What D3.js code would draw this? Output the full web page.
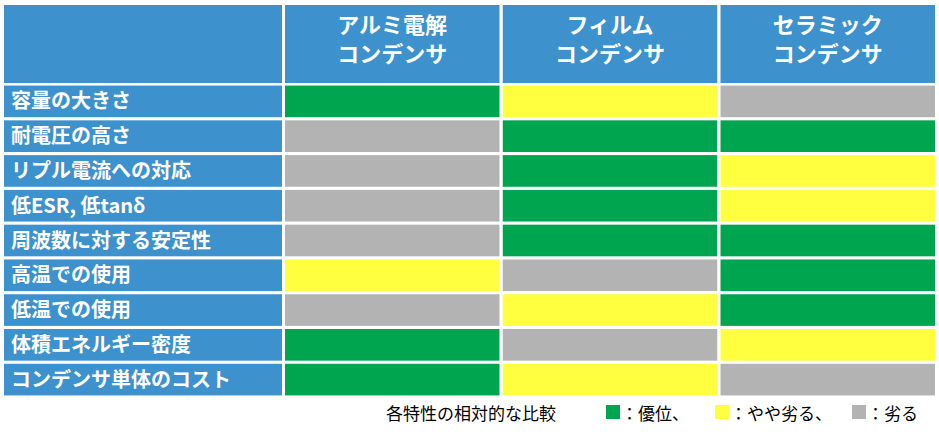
<!DOCTYPE html>
<html><head><meta charset="utf-8">
<script src="https://cdn.jsdelivr.net/npm/d3@7"></script>
<style>body{margin:0;background:#fff}</style>
</head><body>
<div id="chart"></div>
<script>
// Data
let columns = ["アルミ電解\nコンデンサ", "フィルム\nコンデンサ", "セラミック\nコンデンサ"];
let rows = ["容量の大きさ", "耐電圧の高さ", "リプル電流への対応", "低ESR, 低tanδ", "周波数に対する安定性",
            "高温での使用", "低温での使用", "体積エネルギー密度", "コンデンサ単体のコスト"];
// 2 = 優位, 1 = やや劣る, 0 = 劣る
let aluminum = [2, 0, 0, 0, 0, 1, 0, 2, 2];
let film     = [1, 2, 2, 2, 2, 0, 1, 0, 1];
let ceramic  = [0, 2, 1, 1, 2, 2, 2, 1, 0];
let legendLabels = ["：優位、", "：やや劣る、", "：劣る"];

let colors = ["#b3b3b3", "#ffff40", "#00a54f"];
let blue = "#3d91cd";

let svgWidth = 939, svgHeight = 437;
let svg = d3.select("#chart").append("svg").attr("width", svgWidth).attr("height", svgHeight);

// column positions: label column then three rating columns
let labelX0 = 4, labelX1 = 285, tableX1 = 935;
let x = d3.scaleBand().domain(d3.range(3)).range([labelX1, tableX1]).paddingInner(0.015);
let headerY0 = 5, headerY1 = 84, tableY1 = 397;
let y = d3.scaleBand().domain(d3.range(rows.length)).range([headerY1, tableY1]).paddingInner(0.09).paddingOuter(0.045);
let gap = 3;

// header cells
svg.append("rect").attr("x", labelX0).attr("y", headerY0)
  .attr("width", labelX1 - labelX0 - gap).attr("height", headerY1 - headerY0 - 1).attr("fill", blue);
let head = svg.append("g").selectAll("g").data(columns).enter().append("g");
head.append("rect")
  .attr("x", (d, i) => x(i)).attr("y", headerY0)
  .attr("width", x.bandwidth()).attr("height", headerY1 - headerY0 - 1).attr("fill", blue);
head.each(function(d, i) {
  let cx = x(i) + x.bandwidth() / 2;
  d.split("\n").forEach(function(line, k) {
    d3.select(this).append("text")
      .attr("x", cx).attr("y", 33 + k * 29)
      .attr("text-anchor", "middle")
      .attr("fill", "#fff").attr("font-family", "Noto Sans CJK JP").attr("font-weight", "bold").attr("font-size", 22)
      .text(line);
  }, this);
});

// row labels
let rowG = svg.append("g").selectAll("g").data(rows).enter().append("g");
rowG.append("rect")
  .attr("x", labelX0).attr("y", (d, i) => y(i))
  .attr("width", labelX1 - labelX0 - gap).attr("height", y.bandwidth()).attr("fill", blue);
rowG.append("text")
  .attr("x", labelX0 + 7).attr("y", (d, i) => y(i) + y.bandwidth() / 2 + 7)
  .attr("fill", "#fff").attr("font-family", "Noto Sans CJK JP").attr("font-weight", "bold").attr("font-size", 20)
  .text(d => d);

// rating cells
[aluminum, film, ceramic].forEach(function(series, c) {
  svg.append("g").selectAll("rect").data(series).enter().append("rect")
    .attr("x", x(c)).attr("y", (d, i) => y(i))
    .attr("width", x.bandwidth()).attr("height", y.bandwidth())
    .attr("fill", d => colors[d]);
});

// legend
let legend = svg.append("g").attr("font-family", "Noto Sans CJK JP").attr("font-size", 17).attr("fill", "#000");
legend.append("text").attr("x", 386).attr("y", 420).text("各特性の相対的な比較");
let legendX = [606, 715, 852];
[2, 1, 0].forEach(function(v, k) {
  legend.append("rect").attr("x", legendX[k]).attr("y", 405).attr("width", 14).attr("height", 14).attr("fill", colors[v]);
  legend.append("text").attr("x", legendX[k] + 15).attr("y", 420).text(legendLabels[k]);
});
</script>
</body></html>
